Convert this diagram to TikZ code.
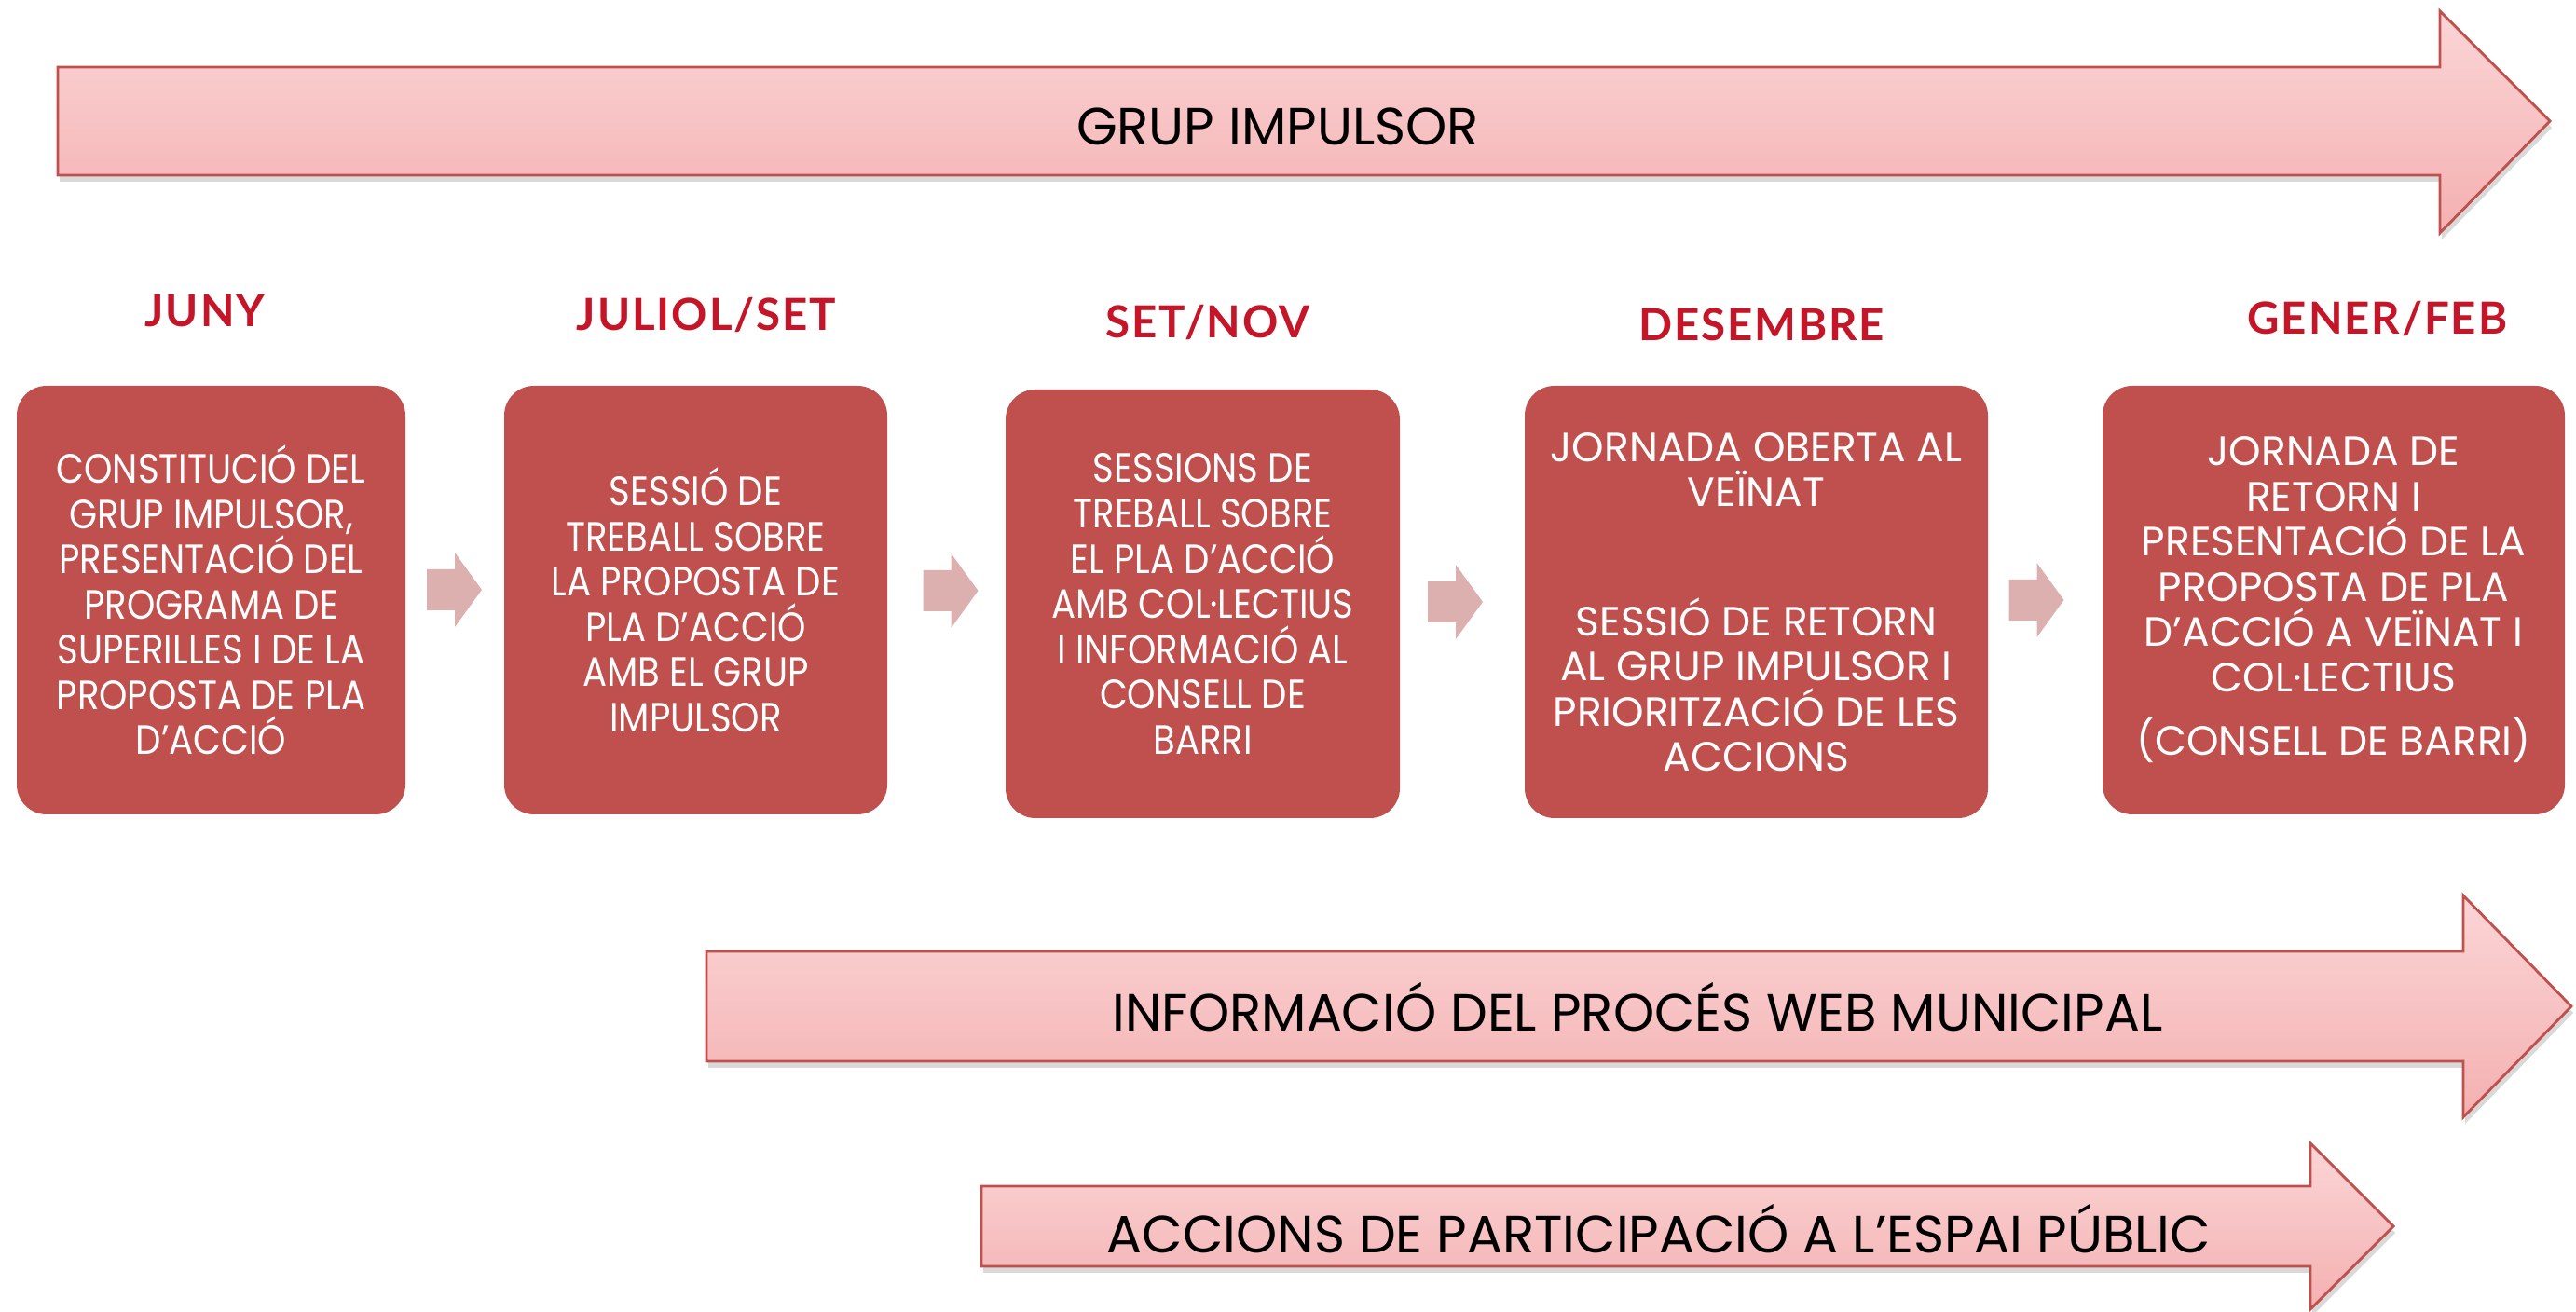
\documentclass[tikz,border=0pt]{standalone}
\usepackage{fontspec}
\usetikzlibrary{calc,shadows}
\newfontfamily\boxfont{Poppins}
\newfontfamily\boxfontnarrow[FakeStretch=0.88]{Poppins}
\newfontfamily\monthfont[LetterSpace=4]{Lato}

\definecolor{boxred}{RGB}{192,80,77}
\definecolor{monthred}{RGB}{196,22,40}
\definecolor{bandtop}{RGB}{251,213,214}
\definecolor{bandbottom}{RGB}{244,176,177}
\definecolor{bandline}{RGB}{192,80,77}
\definecolor{steppink}{RGB}{221,176,176}

\tikzset{steparrow/.pic={
  \fill[steppink] (-0.3,0.22) -- (0,0.22) -- (0,0.4) -- (0.29,0) -- (0,-0.4) -- (0,-0.22) -- (-0.3,-0.22) -- cycle;}}

\begin{document}
\begin{tikzpicture}[
  phasebox/.style={fill=boxred,rounded corners=0.32cm,minimum height=4.6cm,inner sep=0pt,
    text=white,align=center,font=\boxfont\fontsize{12.5}{13.8}\selectfont},
  monthlabel/.style={text=monthred,font=\monthfont\bfseries\fontsize{13.5}{15}\selectfont},
  bandarrow/.style={draw=bandline,line width=0.8pt,top color=bandtop,bottom color=bandbottom,
    drop shadow={shadow xshift=0.02cm,shadow yshift=-0.07cm,opacity=0.3,fill=black!50}},
  bandlabel/.style={font=\boxfont\fontsize{16}{19}\selectfont}]
  \useasboundingbox (0,0) rectangle (27.64,14.08);

  % long bands
  \path[bandarrow] (0.62,12.20) -- (26.18,12.20) -- (26.18,11.58) -- (27.36,12.78)
    -- (26.18,13.96) -- (26.18,13.36) -- (0.62,13.36) -- cycle;
  \path[bandarrow] (7.58,2.69) -- (26.43,2.69) -- (26.43,2.09) -- (27.59,3.28)
    -- (26.43,4.47) -- (26.43,3.87) -- (7.58,3.87) -- cycle;
  \path[bandarrow] (10.53,0.49) -- (24.79,0.49) -- (24.79,0.03) -- (25.68,0.92)
    -- (24.79,1.81) -- (24.79,1.35) -- (10.53,1.35) -- cycle;
  \node[bandlabel] (grup) at (13.71,12.72) {GRUP IMPULSOR};
  \node[bandlabel] (web) at (17.57,3.27) {INFORMACIÓ DEL PROCÉS WEB MUNICIPAL};
  \node[bandlabel] (espai) at (17.80,0.89) {ACCIONS DE PARTICIPACIÓ A L’ESPAI PÚBLIC};

  % phases
  \node[phasebox,minimum width=4.17cm,font=\boxfontnarrow\fontsize{12.5}{13.8}\selectfont] (b1) at (2.265,7.64)
    {CONSTITUCIÓ DEL\\GRUP IMPULSOR,\\PRESENTACIÓ DEL\\PROGRAMA DE\\SUPERILLES I DE LA\\PROPOSTA DE PLA\\D’ACCIÓ};
  \node[phasebox,minimum width=4.11cm,font=\boxfontnarrow\fontsize{12.5}{13.8}\selectfont] (b2) at (7.465,7.64)
    {SESSIÓ DE\\TREBALL SOBRE\\LA PROPOSTA DE\\PLA D’ACCIÓ\\AMB EL GRUP\\IMPULSOR};
  \node[phasebox,minimum width=4.23cm,font=\boxfontnarrow\fontsize{12.5}{13.8}\selectfont] (b3) at (12.905,7.60)
    {SESSIONS DE\\TREBALL SOBRE\\EL PLA D’ACCIÓ\\AMB COL·LECTIUS\\I INFORMACIÓ AL\\CONSELL DE\\BARRI};
  \node[phasebox,minimum width=4.97cm,minimum height=4.64cm] (b4) at (18.845,7.62)
    {JORNADA OBERTA AL\\VEÏNAT\\[0.9cm]SESSIÓ DE RETORN\\AL GRUP IMPULSOR I\\PRIORITZACIÓ DE LES\\ACCIONS};
  \node[phasebox,minimum width=4.96cm] (b5) at (25.04,7.64)
    {JORNADA DE\\RETORN I\\PRESENTACIÓ DE LA\\PROPOSTA DE PLA\\D’ACCIÓ A VEÏNAT I\\COL·LECTIUS\\[0.2cm](CONSELL DE BARRI)};

  % months
  \node[monthlabel] (m1) at (2.20,10.74) {JUNY};
  \node[monthlabel] (m2) at (7.58,10.70) {JULIOL/SET};
  \node[monthlabel] (m3) at (12.96,10.62) {SET/NOV};
  \node[monthlabel] (m4) at (18.90,10.60) {DESEMBRE};
  \node[monthlabel] (m5) at (25.51,10.66) {GENER/FEB};

  % steps between phases
  \pic at ($(b1.east)!0.5!(b2.west)+(0,0.11)$) {steparrow};
  \pic at ($(b2.east)!0.5!(b3.west)+(0.05,0.12)$) {steparrow};
  \pic at ($(b3.east)!0.5!(b4.west)+(-0.07,0.01)$) {steparrow};
  \pic at ($(b4.east)!0.5!(b5.west)+(-0.09,0.01)$) {steparrow};
\end{tikzpicture}
\end{document}
